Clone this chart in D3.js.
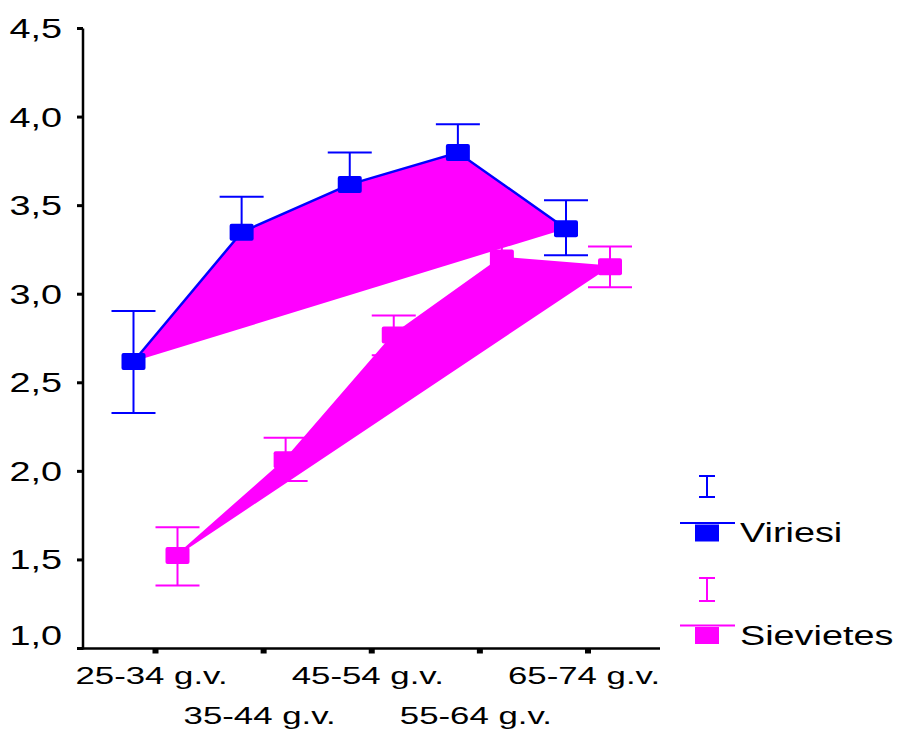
<!DOCTYPE html>
<html>
<head>
<meta charset="utf-8">
<script src="https://cdn.jsdelivr.net/npm/d3@7"></script>
<style>
  body { margin: 0; background: #fff; }
  text { font-family: "Liberation Sans", Arial, sans-serif; fill: #000; }
</style>
</head>
<body>
<svg id="chart" width="899" height="729"></svg>
<script>
var categories = ["25-34 g.v.", "35-44 g.v.", "45-54 g.v.", "55-64 g.v.", "65-74 g.v."];
var viriesi_mean = [2.62, 3.35, 3.62, 3.80, 3.37];
var viriesi_low = [2.33, 3.15, 3.44, 3.64, 3.22];
var viriesi_high = [2.905, 3.55, 3.80, 3.96, 3.53];
var sievietes_mean = [1.525, 2.065, 2.77, 3.205, 3.155];
var sievietes_low = [1.355, 1.945, 2.655, 3.09, 3.04];
var sievietes_high = [1.685, 2.19, 2.88, 3.31, 3.27];
var y_ticks = [1.0, 1.5, 2.0, 2.5, 3.0, 3.5, 4.0, 4.5];

var blue = "#0000ff", magenta = "#ff00ff";
var stretch = 1.35;
var fmt = function(d) { return d3.format(".1f")(d).replace(".", ","); };

var svg = d3.select("#chart");

var x = d3.scalePoint().domain(categories).range([155.5, 588]);
var y = d3.scaleLinear().domain([1.0, 4.5]).range([648.5, 28.5]);

var series = [
    { name: "Viriesi", color: blue, offset: -22, mean: viriesi_mean, low: viriesi_low, high: viriesi_high },
    { name: "Sievietes", color: magenta, offset: 22, mean: sievietes_mean, low: sievietes_low, high: sievietes_high }
];

// axes
svg.append("line")
    .attr("x1", 83).attr("x2", 83)
    .attr("y1", y(4.5)).attr("y2", y(1.0) + 1)
    .attr("stroke", "#000").attr("stroke-width", 2.5);
svg.append("line")
    .attr("x1", 82).attr("x2", 660)
    .attr("y1", y(1.0)).attr("y2", y(1.0))
    .attr("stroke", "#000").attr("stroke-width", 2.5);

svg.selectAll(".ytick").data(y_ticks).enter()
    .append("rect")
        .attr("x", 77).attr("width", 6)
        .attr("y", function(d) { return y(d) - 1.5; })
        .attr("height", 3);

// bottom label sits higher so it clears the x axis
svg.selectAll(".ylabel").data(y_ticks).enter()
    .append("text")
        .attr("transform", function(d, i) {
            var base = i == 0 ? y(d) - 3.5 : y(d) + 9.5;
            return "translate(62," + base + ") scale(" + stretch + ",1)";
        })
        .attr("text-anchor", "end")
        .style("font-size", "28px")
        .text(fmt);

svg.selectAll(".xtick").data(categories).enter()
    .append("rect")
        .attr("x", function(d) { return x(d) - 3; })
        .attr("width", 6)
        .attr("y", y(1.0))
        .attr("height", 5);

svg.selectAll(".xlabel").data(categories).enter()
    .append("text")
        .attr("transform", function(d, i) {
            return "translate(" + (x(d) - 4) + "," + (i % 2 == 0 ? 684 : 724) + ") scale(1.45,1)";
        })
        .attr("text-anchor", "middle")
        .style("font-size", "24px")
        .text(function(d) { return d; });

// error bars
series.forEach(function(s) {
    var g = svg.append("g").attr("stroke", s.color).attr("stroke-width", 2);
    categories.forEach(function(c, i) {
        var cx = x(c) + s.offset;
        g.append("line").attr("x1", cx).attr("x2", cx).attr("y1", y(s.low[i])).attr("y2", y(s.high[i]));
        g.append("line").attr("x1", cx - 22).attr("x2", cx + 22).attr("y1", y(s.low[i])).attr("y2", y(s.low[i]));
        g.append("line").attr("x1", cx - 22).attr("x2", cx + 22).attr("y1", y(s.high[i])).attr("y2", y(s.high[i]));
    });
});

// lines (filled, as in the original rendering)
var line = d3.line()
    .x(function(d) { return d[0]; })
    .y(function(d) { return d[1]; });

series.forEach(function(s) {
    var pts = categories.map(function(c, i) { return [x(c) + s.offset, y(s.mean[i])]; });
    svg.append("path")
        .attr("d", line(pts) + "Z")
        .attr("fill", magenta)
        .attr("stroke", "none");
    svg.append("path")
        .attr("d", line(pts))
        .attr("fill", "none")
        .attr("stroke", s.color)
        .attr("stroke-width", 2.5);
});

// markers
series.forEach(function(s) {
    svg.selectAll(null).data(s.mean).enter()
        .append("rect")
            .attr("x", function(d, i) { return x(categories[i]) + s.offset - 12; })
            .attr("y", function(d) { return y(d) - 8.5; })
            .attr("width", 24).attr("height", 17)
            .attr("rx", 2)
            .attr("fill", s.color);
});

// legend
var legend_y = [{ bar: [476, 497], line: 523, text: 542 }, { bar: [578, 601], line: 625.5, text: 645 }];
series.forEach(function(s, i) {
    var l = legend_y[i];
    var g = svg.append("g");
    g.append("line").attr("x1", 707).attr("x2", 707).attr("y1", l.bar[0]).attr("y2", l.bar[1])
        .attr("stroke", s.color).attr("stroke-width", 2);
    g.append("line").attr("x1", 699).attr("x2", 715).attr("y1", l.bar[0]).attr("y2", l.bar[0])
        .attr("stroke", s.color).attr("stroke-width", 2);
    g.append("line").attr("x1", 699).attr("x2", 715).attr("y1", l.bar[1]).attr("y2", l.bar[1])
        .attr("stroke", s.color).attr("stroke-width", 2);
    g.append("line").attr("x1", 680).attr("x2", 735).attr("y1", l.line).attr("y2", l.line)
        .attr("stroke", s.color).attr("stroke-width", 2);
    g.append("rect").attr("x", 695).attr("y", l.line + 1.5).attr("width", 24).attr("height", 17)
        .attr("fill", s.color);
    g.append("text")
        .attr("transform", "translate(740," + l.text + ") scale(" + stretch + ",1)")
        .style("font-size", "28px")
        .text(s.name);
});
</script>
</body>
</html>
